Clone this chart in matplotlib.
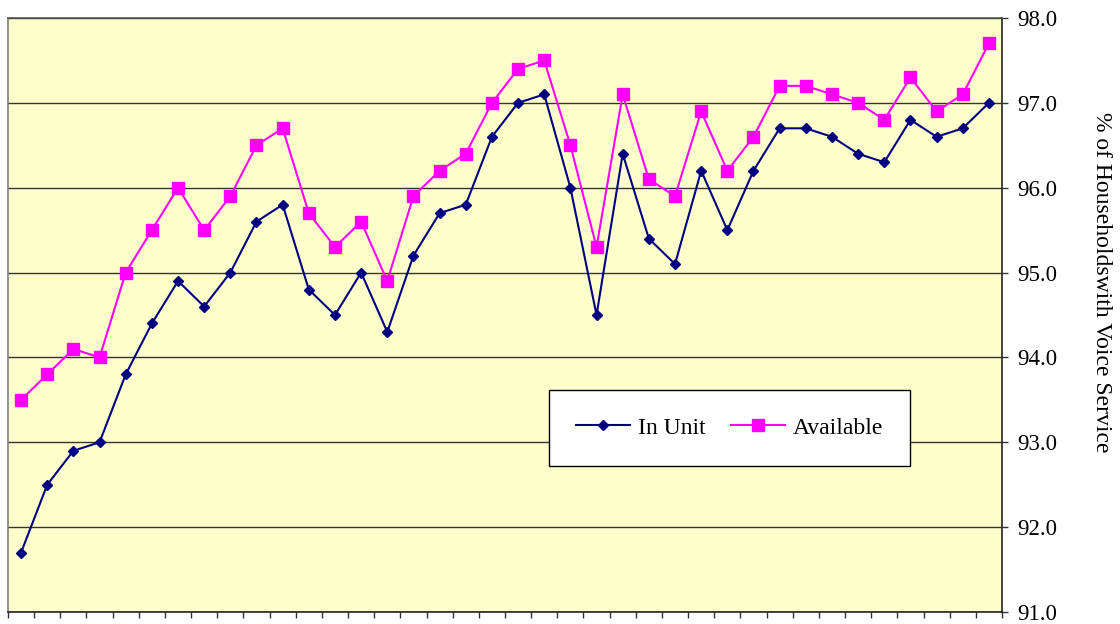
import matplotlib
matplotlib.use("Agg")
import matplotlib.pyplot as plt
import numpy as np

# Share of households with voice service, by survey period
in_unit = [91.7, 92.5, 92.9, 93.0, 93.8, 94.4, 94.9, 94.6, 95.0, 95.6,
           95.8, 94.8, 94.5, 95.0, 94.3, 95.2, 95.7, 95.8, 96.6, 97.0,
           97.1, 96.0, 94.5, 96.4, 95.4, 95.1, 96.2, 95.5, 96.2, 96.7,
           96.7, 96.6, 96.4, 96.3, 96.8, 96.6, 96.7, 97.0]
available = [93.5, 93.8, 94.1, 94.0, 95.0, 95.5, 96.0, 95.5, 95.9, 96.5,
             96.7, 95.7, 95.3, 95.6, 94.9, 95.9, 96.2, 96.4, 97.0, 97.4,
             97.5, 96.5, 95.3, 97.1, 96.1, 95.9, 96.9, 96.2, 96.6, 97.2,
             97.2, 97.1, 97.0, 96.8, 97.3, 96.9, 97.1, 97.7]
y_ticks = [91.0, 92.0, 93.0, 94.0, 95.0, 96.0, 97.0, 98.0]

plt.rcParams['font.family'] = ['Liberation Serif', 'DejaVu Serif']

W, H = 1120, 624
fig = plt.figure(figsize=(W / 100, H / 100), dpi=100)
ax = fig.add_axes([8 / W, 12 / H, 994 / W, 594 / H])
ax.set_facecolor('#FFFFCC')

n = len(in_unit)
x = np.arange(n) + 0.5

ax.plot(x, in_unit, color='#000080', lw=1.5, marker='D', ms=5.5,
        label='In Unit', zorder=3)
ax.plot(x, available, color='#FF00FF', lw=1.5, marker='s', ms=8.5,
        label='Available', zorder=3)

ax.set_xlim(0, n)
ax.set_ylim(91, 98)
ax.set_xticks(np.arange(n + 1))
ax.set_xticklabels([])
ax.tick_params(axis='x', direction='out', length=4.5, width=1, color='#333333')

ax.yaxis.tick_right()
ax.set_yticks(y_ticks)
ax.set_yticklabels([f'{v:.1f}' for v in y_ticks], fontsize=16.5)
ax.tick_params(axis='y', direction='out', length=4.5, width=1, color='#333333', pad=6.5)

fig.text(1102 / W, 1 - 282 / H, '% of Householdswith Voice Service', fontsize=17,
         rotation=-90, ha='center', va='center')

ax.grid(axis='y', color='#333333', lw=1)
ax.set_axisbelow(True)

for side in ['left', 'top', 'right', 'bottom']:
    ax.spines[side].set_linewidth(1.2)
ax.spines['left'].set_color('#808080')
ax.spines['top'].set_color('#555555')
ax.spines['right'].set_color('#222222')
ax.spines['bottom'].set_color('#222222')

leg = ax.legend(loc='upper left', bbox_to_anchor=(541 / 994, (612 - 390) / 594),
                borderaxespad=0, ncol=2, fontsize=17, frameon=True, fancybox=False,
                edgecolor='black', framealpha=1, borderpad=1.15,
                handlelength=2.3, columnspacing=1.1, handletextpad=0.3)
leg.get_frame().set_linewidth(1.0)

fig.savefig('out.png', dpi=100)
